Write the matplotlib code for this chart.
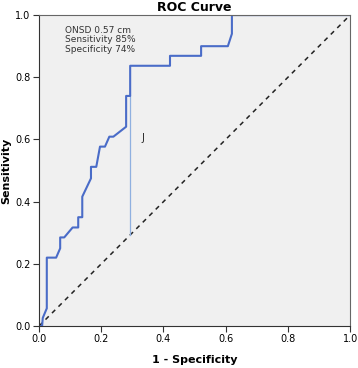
import matplotlib
matplotlib.use('Agg')
import matplotlib.pyplot as plt

# ROC curve points
fpr = [0.0, 0.01, 0.012, 0.025, 0.025, 0.055, 0.068, 0.068, 0.081, 0.108, 0.126,
       0.126, 0.139, 0.139, 0.167, 0.167, 0.184, 0.196, 0.212, 0.226, 0.239, 0.28,
       0.28, 0.293, 0.293, 0.421, 0.421, 0.521, 0.521, 0.607, 0.62, 0.62, 1.0]
tpr = [0.0, 0.0, 0.026, 0.057, 0.22, 0.22, 0.25, 0.285, 0.285, 0.317, 0.317,
       0.35, 0.35, 0.416, 0.475, 0.512, 0.512, 0.577, 0.577, 0.609, 0.609, 0.641,
       0.74, 0.74, 0.837, 0.837, 0.869, 0.869, 0.9, 0.9, 0.94, 1.0, 1.0]

cutoff_x = 0.293
cutoff_y = [0.293, 0.74]
note_lines = ['ONSD 0.57 cm', 'Sensitivity 85%', 'Specificity 74%']
ticks = [0.0, 0.2, 0.4, 0.6, 0.8, 1.0]

fig = plt.figure(figsize=(3.58, 3.68), dpi=100)
ax = fig.add_axes([0.109, 0.114, 0.869, 0.845])
ax.set_facecolor('#f0f0f0')

ax.plot([0, 1], [0, 1], color='#222222', linestyle=(0, (3, 3)), linewidth=1.1)
ax.plot([cutoff_x, cutoff_x], cutoff_y, color='#8fb0e0', linewidth=0.9)
ax.plot(fpr, tpr, color='#4a6cc8', linewidth=1.5)

ax.text(0.33, 0.596, 'J', fontsize=7, color='#222222')
ax.text(0.084, 0.965, '\n'.join(note_lines), fontsize=6.5, color='#333333',
        va='top', linespacing=1.05)

ax.set_xlim(0, 1)
ax.set_ylim(0, 1)
ax.set_xticks(ticks)
ax.set_yticks(ticks)
ax.set_xticklabels(['%.1f' % t for t in ticks])
ax.set_yticklabels(['%.1f' % t for t in ticks])
ax.tick_params(direction='out', length=4, labelsize=7, color='#333333', pad=2)

for s in ax.spines.values():
    s.set_color('#666666')
ax.spines['left'].set_color('#333333')
ax.spines['bottom'].set_color('#333333')

ax.set_title('ROC Curve', fontsize=9, fontweight='bold', pad=3)
ax.set_xlabel('1 - Specificity', fontsize=8, fontweight='bold', labelpad=8)
ax.set_ylabel('Sensitivity', fontsize=8, fontweight='bold', labelpad=3)

plt.savefig('out.png', dpi=100)
